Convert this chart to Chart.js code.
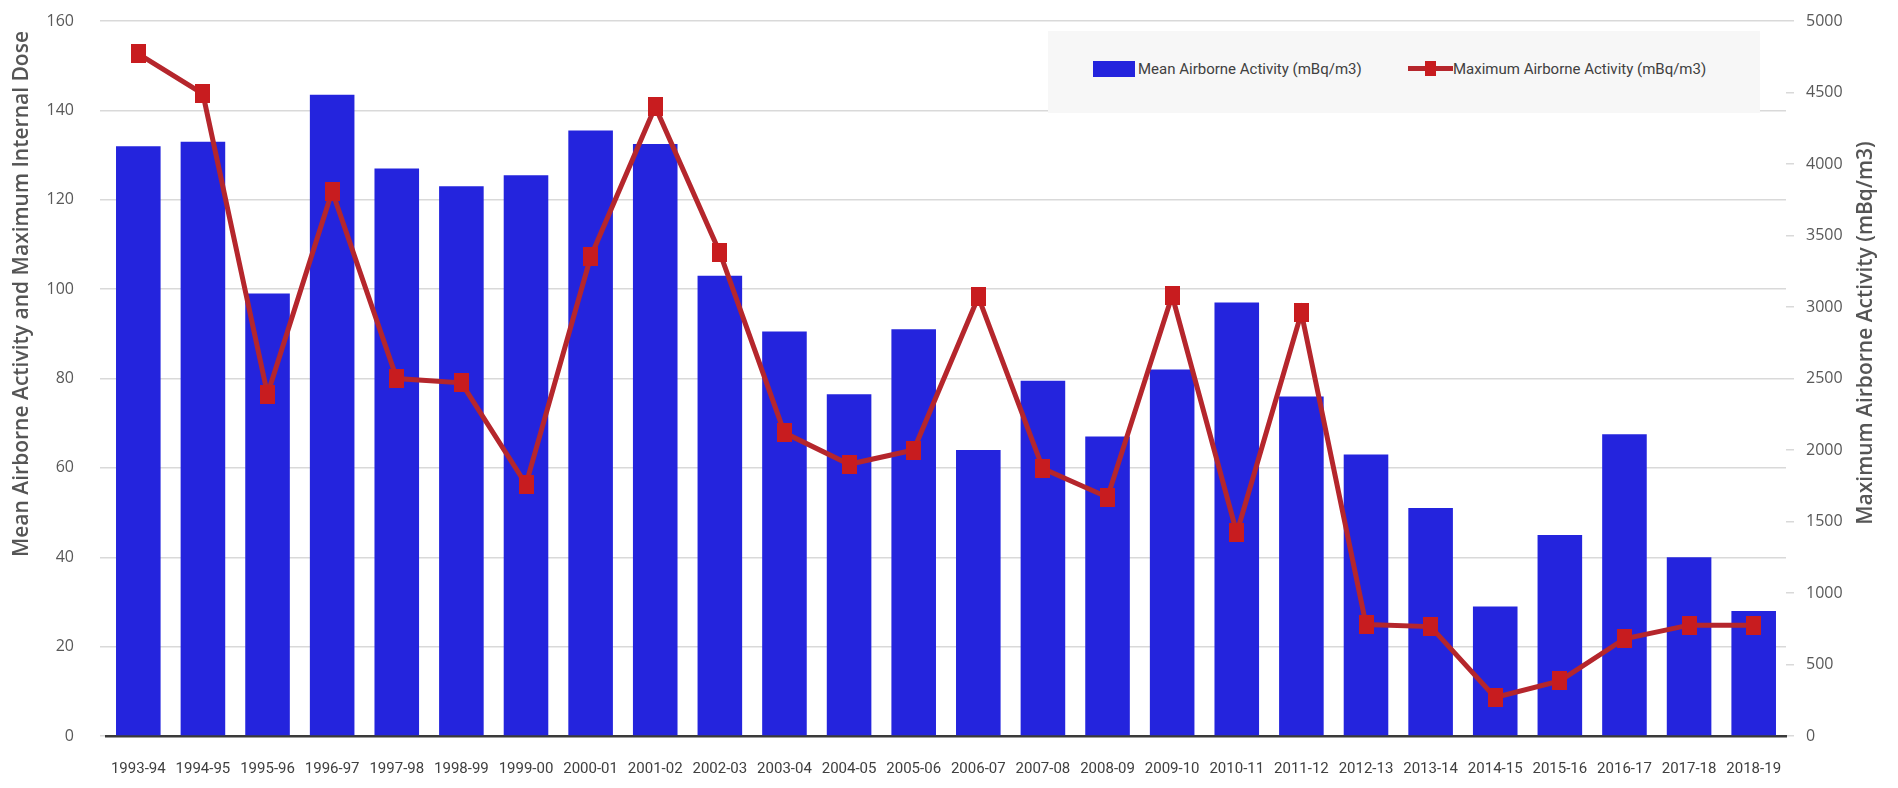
<!DOCTYPE html>
<html>
<head>
<meta charset="utf-8">
<title>Airborne Activity</title>
<script src="https://cdn.jsdelivr.net/npm/chart.js@4.4.1/dist/chart.umd.min.js"></script>
<style>
  html, body { margin: 0; padding: 0; background: #fff; }
  #wrap { position: relative; width: 1898px; height: 788px; }
  #legend {
    position: absolute; left: 1048px; top: 31px; width: 712px; height: 82px;
    background: #f7f7f7;
    font-family: Roboto, 'Liberation Sans', sans-serif;
    font-size: 15px; color: #404040; white-space: nowrap;
  }
  .item { display: flex; align-items: center; position: absolute; top: 0; height: 76px; }
  .swatch { display: inline-block; flex: none; }
</style>
</head>
<body>
<div id="wrap">
  <canvas id="mainChart" width="1898" height="788"></canvas>
  <div id="legend"></div>
</div>
<script>
const seasons = ['1993-94', '1994-95', '1995-96', '1996-97', '1997-98', '1998-99', '1999-00',
  '2000-01', '2001-02', '2002-03', '2003-04', '2004-05', '2005-06', '2006-07', '2007-08',
  '2008-09', '2009-10', '2010-11', '2011-12', '2012-13', '2013-14', '2014-15', '2015-16',
  '2016-17', '2017-18', '2018-19'];

const meanActivity = [132, 133, 99, 143.5, 127, 123, 125.5, 135.5, 132.5, 103, 90.5, 76.5, 91,
  64, 79.5, 67, 82, 97, 76, 63, 51, 29, 45, 67.5, 40, 28];

const maxActivity = [4770, 4490, 2390, 3810, 2500, 2470, 1760, 3350, 4400, 3380, 2120, 1900,
  2000, 3070, 1870, 1670, 3080, 1420, 2960, 780, 765, 270, 385, 680, 775, 775];

const leftTicks = [0, 20, 40, 60, 80, 100, 120, 140, 160];
const rightTicks = [0, 500, 1000, 1500, 2000, 2500, 3000, 3500, 4000, 4500, 5000];

const leftTitle = 'Mean Airborne Activity and Maximum Internal Dose';
const rightTitle = 'Maximum Airborne Activity (mBq/m3)';

const BAR_COLOR = '#2424dd';
const LINE_COLOR = '#b5262c';
const MARKER_COLOR = '#c81c1f';

// slightly tall square marker for the line
const marker = document.createElement('canvas');
marker.width = 15;
marker.height = 19;
const mctx = marker.getContext('2d');
mctx.fillStyle = MARKER_COLOR;
mctx.fillRect(0, 0, 15, 19);

// rotated axis titles, both reading bottom to top
const axisTitles = {
  id: 'axisTitles',
  afterDraw(chart) {
    const { ctx, chartArea } = chart;
    ctx.save();
    ctx.fillStyle = '#555555';
    ctx.font = '600 21px "Open Sans", sans-serif';
    ctx.textBaseline = 'middle';

    ctx.save();
    ctx.translate(22, chartArea.top + 10);
    ctx.rotate(-Math.PI / 2);
    ctx.textAlign = 'right';
    ctx.fillText(leftTitle, 0, 0);
    ctx.restore();

    ctx.save();
    ctx.translate(1866, chartArea.top + 312);
    ctx.rotate(-Math.PI / 2);
    ctx.textAlign = 'center';
    ctx.fillText(rightTitle, 0, 0);
    ctx.restore();

    ctx.restore();
  }
};

const tickFont = { family: '"Open Sans", sans-serif', size: 16 };

// fixed axis box sizes; tick label overhang should not shrink the plot
function fitVertical(width) {
  return scale => {
    scale.width = width;
    scale.paddingTop = 0;
    scale.paddingBottom = 0;
  };
}

const chart = new Chart(document.getElementById('mainChart'), {
  data: {
    labels: seasons,
    datasets: [
      {
        type: 'line',
        label: 'Maximum Airborne Activity (mBq/m3)',
        data: maxActivity,
        yAxisID: 'y1',
        borderColor: LINE_COLOR,
        backgroundColor: MARKER_COLOR,
        borderWidth: 5,
        pointStyle: marker,
        pointRadius: 9,
        tension: 0,
        order: 0,
      },
      {
        type: 'bar',
        label: 'Mean Airborne Activity (mBq/m3)',
        data: meanActivity,
        yAxisID: 'y',
        backgroundColor: BAR_COLOR,
        categoryPercentage: 1,
        barPercentage: 0.69,
        order: 1,
      },
    ],
  },
  options: {
    responsive: false,
    animation: false,
    layout: { padding: { top: 21, left: 0, right: 0, bottom: 0 } },
    plugins: {
      legend: { display: false },
      tooltip: { enabled: false },
    },
    scales: {
      x: {
        offset: true,
        grid: { display: false, drawTicks: false },
        border: { color: '#3a3a3a', width: 2.5 },
        ticks: {
          color: '#404040',
          font: { family: 'Roboto, "Liberation Sans", sans-serif', size: 15 },
          padding: 24,
          maxRotation: 0,
          autoSkip: false,
        },
        afterFit(scale) { scale.height = 52; },
      },
      y: {
        position: 'left',
        min: 0,
        max: 160,
        afterBuildTicks(scale) { scale.ticks = leftTicks.map(v => ({ value: v })); },
        grid: { color: '#d9d9d9', lineWidth: 1.5, tickLength: 6 },
        border: { display: false },
        ticks: { color: '#595959', font: tickFont, padding: 26, callback: v => String(v) },
        afterFit: fitVertical(106),
      },
      y1: {
        position: 'right',
        min: 0,
        max: 5000,
        afterBuildTicks(scale) { scale.ticks = rightTicks.map(v => ({ value: v })); },
        grid: { drawOnChartArea: false, color: '#d9d9d9', lineWidth: 1.5, tickLength: 8 },
        border: { display: false },
        ticks: { color: '#595959', font: tickFont, padding: 12, callback: v => String(v) },
        afterFit: fitVertical(112),
      },
    },
  },
  plugins: [axisTitles],
});

// legend built from the datasets
function buildLegend() {
  const legend = document.getElementById('legend');
  const bars = chart.data.datasets[1];
  const line = chart.data.datasets[0];

  const barItem = document.createElement('div');
  barItem.className = 'item';
  barItem.style.left = '45px';
  barItem.innerHTML =
    '<span class="swatch" style="width:42px;height:16px;background:' + bars.backgroundColor + '"></span>' +
    '<span style="margin-left:3px">' + bars.label + '</span>';

  const lineItem = document.createElement('div');
  lineItem.className = 'item';
  lineItem.style.left = '360px';
  lineItem.innerHTML =
    '<span class="swatch" style="position:relative;width:45px;height:16px">' +
    '<span style="position:absolute;left:0;top:5px;width:45px;height:5px;background:' + line.borderColor + '"></span>' +
    '<span style="position:absolute;left:17px;top:0;width:11px;height:15px;background:' + line.backgroundColor + '"></span>' +
    '</span>' +
    '<span>' + line.label + '</span>';

  legend.appendChild(barItem);
  legend.appendChild(lineItem);
}

buildLegend();
</script>
</body>
</html>
